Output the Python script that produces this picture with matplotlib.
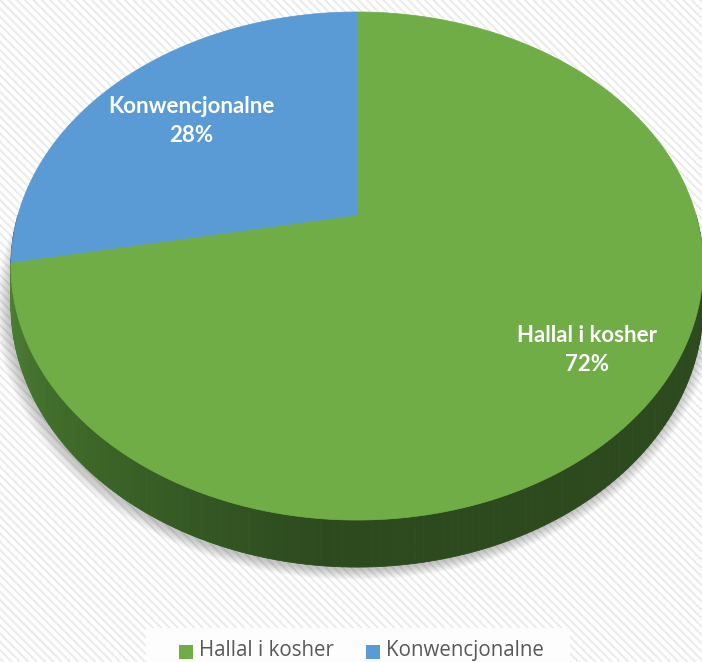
import numpy as np
import matplotlib
matplotlib.use("Agg")
import matplotlib.pyplot as plt
from matplotlib.patches import Polygon, Rectangle
from matplotlib.colors import to_rgb

# Data
labels = ["Hallal i kosher", "Konwencjonalne"]
values = [72, 28]
colors = ["#70ad47", "#5b9bd5"]
side_colors = ["#2d4a1f", "#2f5678"]

plt.rcParams["hatch.linewidth"] = 1.4

fig = plt.figure(figsize=(7.02, 6.62), dpi=100)
ax = fig.add_axes([0, 0, 1, 1])
ax.set_xlim(0, 702)
ax.set_ylim(662, 0)
ax.axis("off")

# striped background
ax.add_patch(Rectangle((0, 0), 702, 662, facecolor="white", edgecolor="#ebebeb",
                       hatch="\\\\\\\\", lw=0, zorder=0))
# legend panel
ax.add_patch(Rectangle((146, 628), 424, 40, facecolor="#fdfdfd", edgecolor="none", zorder=1))

# perspective projection of the pie disk (u, v in unit circle, v up = far)
CX, CY = 357, 215
A, B, K, D = 339, 243.8, 0.2008, 37.6


def proj(theta_deg, r=1.0, drop=0.0):
    t = np.radians(theta_deg)
    u = r * np.cos(t)
    v = r * np.sin(t)
    w = 1 + K * v
    return CX + A * u / w, CY - B * v / w + D * drop / w


# shadow
th = np.linspace(0, 360, 200)
bx, by = proj(th, 1.0, 1.0)
for i in range(10):
    s = 1 + 0.004 * i
    px = CX + (bx - CX) * s - 2
    py = 300 + (by - 300) * s + 3
    ax.add_patch(Polygon(np.column_stack([px, py]), closed=True, facecolor="black",
                         edgecolor="none", alpha=0.025, zorder=2))

# wedge angles, clockwise from 12 o'clock
total = sum(values)
bounds = [90.0]
for val in values:
    bounds.append(bounds[-1] - 360.0 * val / total)


def wedge_of(angle):
    for i in range(len(values)):
        hi, lo = bounds[i], bounds[i + 1]
        for off in (0, -360, 360):
            if lo <= angle + off <= hi:
                return i
    return 0


# side wall (front half), shaded darker toward the middle
light = np.array(to_rgb("#558a3b"))
mid = np.array(to_rgb("#3f6a29"))
steps = np.linspace(-180, 0, 181)
for a0, a1 in zip(steps[:-1], steps[1:]):
    i = wedge_of((a0 + a1) / 2)
    base = np.array(to_rgb(side_colors[i]))
    if i == 0:
        f = np.clip((a0 + 180) / 85.0, 0, 1)
        if f < 0.5:
            c = light + (mid - light) * (f / 0.5)
        else:
            c = mid + (base - mid) * ((f - 0.5) / 0.5)
    else:
        c = base
    x0, y0 = proj(a0)
    x1, y1 = proj(a1)
    x2, y2 = proj(a1, drop=1)
    x3, y3 = proj(a0, drop=1)
    ax.add_patch(Polygon([(x0, y0), (x1, y1), (x2, y2), (x3, y3)], closed=True,
                         facecolor=c, edgecolor=c, lw=0.6, zorder=3))

# top face wedges
for i in range(len(values)):
    t = np.linspace(bounds[i], bounds[i + 1], 200)
    ex, ey = proj(t)
    cx, cy = proj(0, r=0)
    pts = np.vstack([[cx, cy], np.column_stack([ex, ey])])
    ax.add_patch(Polygon(pts, closed=True, facecolor=colors[i], edgecolor=colors[i],
                         lw=0.5, zorder=4))

# data labels
label_pos = [(587, 350), (191, 121)]
for i, (lx, ly) in enumerate(label_pos):
    ax.text(lx, ly, f"{labels[i]}\n{values[i]}%", ha="center", va="center",
            color="white", fontsize=16, fontweight="bold", family="Lato",
            linespacing=1.5, zorder=5)

# legend
leg_x = [179, 366]
for i in range(len(labels)):
    ax.add_patch(Rectangle((leg_x[i], 645), 14, 14, facecolor=colors[i],
                           edgecolor="none", zorder=5))
    ax.text(leg_x[i] + 20, 656, labels[i], ha="left", va="baseline", color="#595959",
            fontsize=14.8, family="Open Sans", zorder=5)

fig.savefig("out.png", dpi=100)
